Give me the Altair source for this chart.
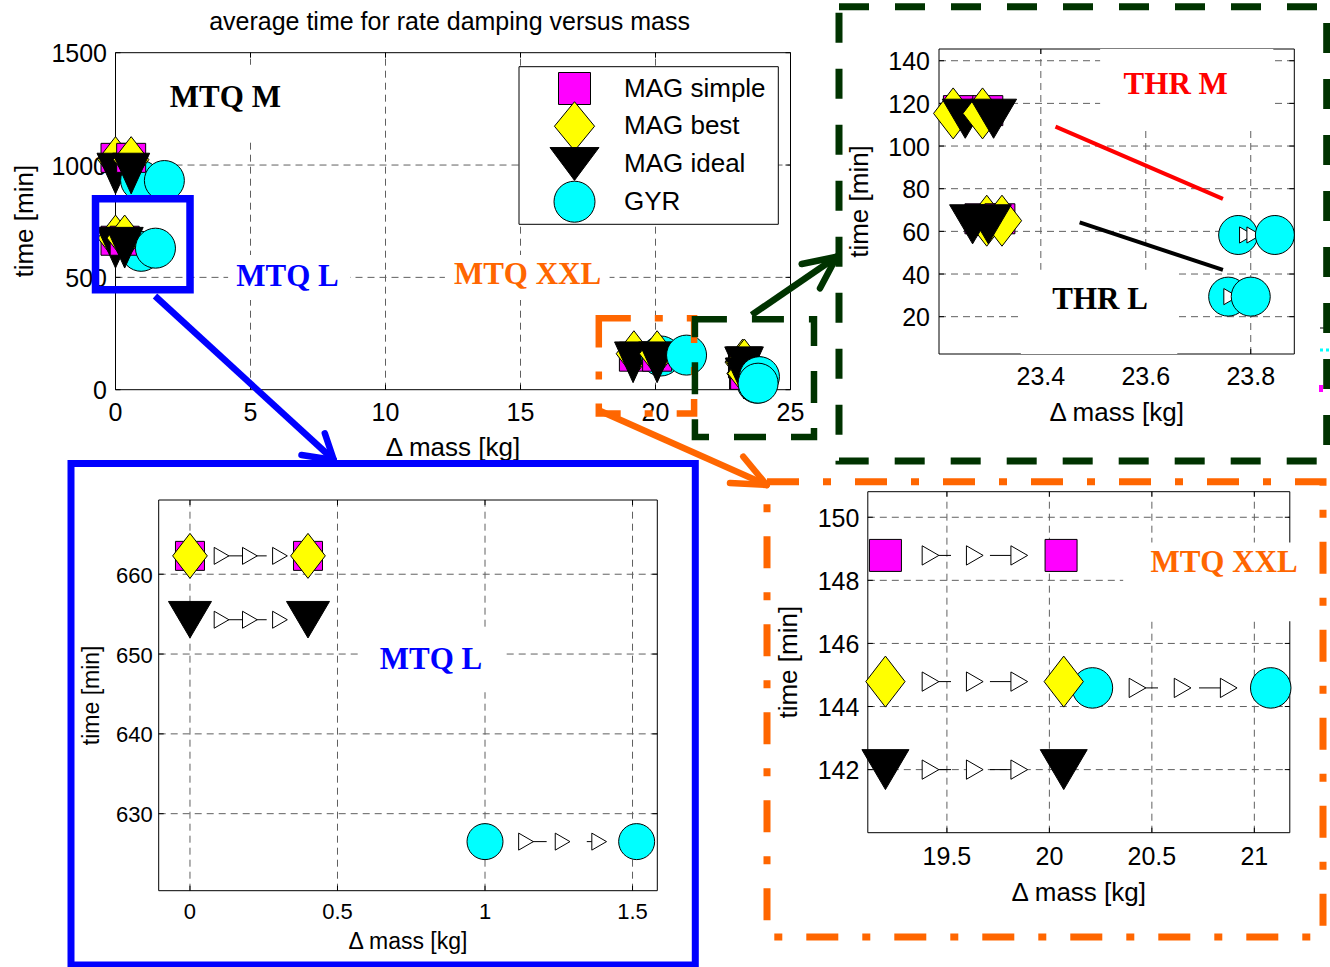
import altair as alt
import pandas as pd

W, H = 1330, 967
FONT = "Liberation Sans"
SERIF = "Liberation Serif"
GRID_COLOR = "#606060"
BLUE, GREEN, ORANGE, RED = "#0000ff", "#003300", "#ff6600", "#ff0000"

SERIES = ["MAG simple", "MAG best", "MAG ideal", "GYR"]
FILL = {"MAG simple": "#ff00ff", "MAG best": "#ffff00", "MAG ideal": "#000000", "GYR": "#00ffff"}

# ---------------------------------------------------------------- data
# overview: (sensor, step, delta mass [kg], average damping time [min])
OV_MTQ_M = [
    ("MAG simple", 1, 0.00, 1032), ("MAG simple", 2, 0.58, 1032),
    ("MAG best", 1, 0.00, 1024), ("MAG best", 2, 0.58, 1024),
    ("MAG ideal", 1, 0.00, 962), ("MAG ideal", 2, 0.58, 962),
    ("GYR", 1, 0.93, 931), ("GYR", 2, 1.81, 931),
]
OV_MTQ_L = [
    ("MAG simple", 1, 0.00, 663), ("MAG simple", 2, 0.34, 663),
    ("MAG best", 1, 0.00, 675), ("MAG best", 2, 0.34, 675),
    ("MAG ideal", 1, 0.00, 632), ("MAG ideal", 2, 0.34, 632),
    ("GYR", 1, 0.95, 616), ("GYR", 2, 1.48, 630),
]
OV_MTQ_XXL = [
    ("MAG simple", 1, 19.20, 147), ("MAG simple", 2, 20.06, 147),
    ("MAG best", 1, 19.20, 160), ("MAG best", 2, 20.06, 160),
    ("MAG ideal", 1, 19.17, 122), ("MAG ideal", 2, 20.06, 122),
    ("GYR", 1, 20.20, 150), ("GYR", 2, 21.15, 154),
]
OV_THR = [
    ("MAG simple", 1, 23.24, 117), ("MAG simple", 2, 23.30, 117),
    ("MAG best", 1, 23.23, 123), ("MAG best", 2, 23.29, 123),
    ("MAG ideal", 1, 23.25, 100), ("MAG ideal", 2, 23.31, 100),
    ("GYR", 1, 23.78, 58), ("GYR", 2, 23.85, 58),
    ("MAG simple", 1, 23.28, 66), ("MAG simple", 2, 23.32, 66),
    ("MAG best", 1, 23.30, 72), ("MAG best", 2, 23.33, 72),
    ("MAG ideal", 1, 23.27, 50), ("MAG ideal", 2, 23.30, 50),
    ("GYR", 1, 23.76, 29), ("GYR", 2, 23.80, 29),
]

# thruster close-up
THR_M = [
    ("MAG simple", 1, 23.243, 116.6), ("MAG simple", 2, 23.299, 116.6),
    ("MAG best", 1, 23.233, 115.3), ("MAG best", 2, 23.289, 115.3),
    ("MAG ideal", 1, 23.256, 112.8), ("MAG ideal", 2, 23.310, 112.8),
    ("GYR", 1, 23.776, 58.3), ("GYR", 2, 23.846, 58.3),
]
THR_L = [
    ("MAG simple", 1, 23.284, 65.9), ("MAG simple", 2, 23.322, 65.9),
    ("MAG best", 1, 23.297, 65.0), ("MAG best", 2, 23.326, 65.0),
    ("MAG ideal", 1, 23.270, 63.3), ("MAG ideal", 2, 23.300, 63.3),
    ("GYR", 1, 23.757, 29.4), ("GYR", 2, 23.800, 29.4),
]
THR_TREND_M = [(23.428, 109.1, 23.747, 75.2)]
THR_TREND_L = [(23.474, 64.2, 23.747, 41.9)]
THR_STEP_MARKS = [(23.792, 58.3), (23.806, 58.3), (23.762, 29.4)]

# MTQ L close-up
MTQL = [
    ("MAG simple", 1, 0.00, 662.3), ("MAG simple", 2, 0.40, 662.3),
    ("MAG best", 1, 0.00, 662.3), ("MAG best", 2, 0.40, 662.3),
    ("MAG ideal", 1, 0.00, 654.3), ("MAG ideal", 2, 0.40, 654.3),
    ("GYR", 1, 1.00, 626.5), ("GYR", 2, 1.514, 626.5),
]
MTQL_STEP_MARKS = [
    (0.107, 662.3), (0.203, 662.3), (0.305, 662.3),
    (0.107, 654.3), (0.203, 654.3), (0.305, 654.3),
    (1.139, 626.5), (1.263, 626.5), (1.387, 626.5),
]
MTQL_STEP_LINES = [
    (0.107, 0.260, 662.3), (0.107, 0.260, 654.3),
    (1.139, 1.209, 626.5), (1.345, 1.387, 626.5),
]

# MTQ XXL close-up
XXL = [
    ("MAG simple", 1, 19.20, 148.79), ("MAG simple", 2, 20.057, 148.79),
    ("MAG best", 1, 19.20, 144.79), ("MAG best", 2, 20.07, 144.79),
    ("MAG ideal", 1, 19.20, 142.0), ("MAG ideal", 2, 20.07, 142.0),
    ("GYR", 1, 20.21, 144.59), ("GYR", 2, 21.08, 144.59),
]
XXL_STEP_MARKS = [
    (19.420, 148.79), (19.636, 148.79), (19.853, 148.79),
    (19.420, 144.79), (19.636, 144.79), (19.853, 144.79),
    (19.420, 142.00), (19.636, 142.00), (19.853, 142.00),
    (20.430, 144.59), (20.650, 144.59), (20.875, 144.59),
]
XXL_STEP_LINES = [
    (19.42, 19.52, 148.79), (19.71, 19.89, 148.79),
    (19.42, 19.52, 144.79), (19.71, 19.89, 144.79),
    (19.42, 19.52, 142.00), (19.71, 19.89, 142.00),
    (20.43, 20.53, 144.59), (20.73, 20.91, 144.59),
]

# ---------------------------------------------------------------- marker looks
DIAMOND = "M0,-1L0.77,0L0,1L-0.77,0Z"
DIAMOND_LEG = "M0,-1L0.82,0L0,1L-0.82,0Z"
TRI_TALL = "M-1,-1.1L1,-1.1L0,1.1Z"
TRI_WIDE = "M-1,-0.85L1,-0.85L0,0.85Z"
TRI_FLAT = "M-1,-0.67L1,-0.67L0,0.67Z"
TICK_UP, TICK_DOWN = "M0,0L0,-1", "M0,0L0,1"
TICK_RIGHT, TICK_LEFT = "M0,0L1,0", "M0,0L-1,0"

LOOK_MAIN = {"MAG simple": ("square", 29 ** 2), "MAG best": (DIAMOND, 46 ** 2),
             "MAG ideal": (TRI_TALL, 37 ** 2), "GYR": ("circle", 40 ** 2)}
LOOK_THR = {"MAG simple": ("square", 30 ** 2), "MAG best": (DIAMOND, 51 ** 2),
            "MAG ideal": (TRI_WIDE, 46 ** 2), "GYR": ("circle", 39 ** 2)}
LOOK_MTQL = {"MAG simple": ("square", 29 ** 2), "MAG best": (DIAMOND, 45 ** 2),
             "MAG ideal": (TRI_WIDE, 43 ** 2), "GYR": ("circle", 36 ** 2)}
LOOK_XXL = {"MAG simple": ("square", 32 ** 2), "MAG best": (DIAMOND, 51 ** 2),
            "MAG ideal": (TRI_WIDE, 47 ** 2), "GYR": ("circle", 40.5 ** 2)}
LOOK_LEG = {"MAG simple": ("square", 32 ** 2), "MAG best": (DIAMOND_LEG, 49 ** 2),
            "MAG ideal": (TRI_FLAT, 49 ** 2), "GYR": ("circle", 41 ** 2)}

ONE = pd.DataFrame({"k": [0]})


def points_df(*groups):
    rows = [r for g in groups for r in g]
    return pd.DataFrame(rows, columns=["sensor", "step", "mass", "time"])


def panel(cfg):
    xs = alt.Scale(domain=cfg["xdom"], range=cfg["xrng"], nice=False, zero=False)
    ys = alt.Scale(domain=cfg["ydom"], range=cfg["yrng"], nice=False, zero=False)
    x0, x1 = cfg["xdom"]
    y0, y1 = cfg["ydom"]
    tfs, hfs = cfg["fonts"]
    xl_dy, yl_dx, xt_dy, yt_dy = cfg["offsets"]

    def X(f):
        return alt.X(f, type="quantitative", scale=xs, axis=None)

    def Y(f):
        return alt.Y(f, type="quantitative", scale=ys, axis=None)

    layers = []
    # dashed grid
    vg = pd.DataFrame({"v": cfg["xgrid"], "lo": y0, "hi": y1})
    hg = pd.DataFrame({"v": cfg["ygrid"], "lo": x0, "hi": x1})
    gl = dict(stroke=GRID_COLOR, strokeWidth=1, strokeDash=[7, 5])
    layers.append(alt.Chart(vg).mark_rule(**gl).encode(x=X("v"), y=Y("lo"), y2="hi"))
    layers.append(alt.Chart(hg).mark_rule(**gl).encode(x=X("lo"), y=Y("v"), x2="hi"))

    # axes box
    frame = pd.DataFrame({"x0": [x0], "x1": [x1], "y0": [y0], "y1": [y1]})
    layers.append(alt.Chart(frame).mark_rect(fill="white", fillOpacity=0, stroke="black",
                                             strokeWidth=1)
                  .encode(x=X("x0"), x2="x1", y=Y("y0"), y2="y1"))

    # inward tick marks on all four sides
    xt = pd.DataFrame({"v": cfg["xticks"], "lo": y0, "hi": y1})
    yt = pd.DataFrame({"v": cfg["yticks"], "lo": x0, "hi": x1})
    tk = dict(filled=False, stroke="black", strokeWidth=1, opacity=1, size=100)
    layers += [
        alt.Chart(xt).mark_point(shape=TICK_UP, **tk).encode(x=X("v"), y=Y("lo")),
        alt.Chart(xt).mark_point(shape=TICK_DOWN, **tk).encode(x=X("v"), y=Y("hi")),
        alt.Chart(yt).mark_point(shape=TICK_RIGHT, **tk).encode(x=X("lo"), y=Y("v")),
        alt.Chart(yt).mark_point(shape=TICK_LEFT, **tk).encode(x=X("hi"), y=Y("v")),
    ]

    # tick labels
    xl = pd.DataFrame({"v": cfg["xticks"], "lo": y0, "lab": [f"{v:g}" for v in cfg["xticks"]]})
    yl = pd.DataFrame({"v": cfg["yticks"], "lo": x0, "lab": [f"{v:g}" for v in cfg["yticks"]]})
    layers.append(alt.Chart(xl).mark_text(font=FONT, fontSize=tfs, color="black", align="center",
                                          baseline="middle", dy=xl_dy)
                  .encode(x=X("v"), y=Y("lo"), text="lab:N"))
    layers.append(alt.Chart(yl).mark_text(font=FONT, fontSize=tfs, color="black", align="right",
                                          baseline="middle", dx=yl_dx, dy=1.5)
                  .encode(x=X("lo"), y=Y("v"), text="lab:N"))

    # axis titles
    tt = pd.DataFrame({"mx": [(x0 + x1) / 2], "my": [(y0 + y1) / 2], "lx": [x0], "ly": [y0]})
    layers.append(alt.Chart(tt).mark_text(text="Δ mass [kg]", font=FONT, fontSize=hfs,
                                          color="black", align="center", baseline="middle",
                                          dy=xt_dy)
                  .encode(x=X("mx"), y=Y("ly")))
    layers.append(alt.Chart(tt).mark_text(text="time [min]", font=FONT, fontSize=hfs,
                                          color="black", align="center", baseline="middle",
                                          angle=270, dy=yt_dy)
                  .encode(x=X("lx"), y=Y("my")))

    # white backgrounds behind the text labels
    if cfg.get("boxes"):
        bx = pd.DataFrame(cfg["boxes"], columns=["x0", "x1", "y0", "y1"])
        layers.append(alt.Chart(bx).mark_rect(fill="white", strokeWidth=0)
                      .encode(x=X("x0"), x2="x1", y=Y("y0"), y2="y1"))

    # trend lines
    for rows, color in cfg.get("trends", []):
        td = pd.DataFrame(rows, columns=["xa", "ya", "xb", "yb"])
        layers.append(alt.Chart(td).mark_rule(stroke=color, strokeWidth=4)
                      .encode(x=X("xa"), y=Y("ya"), x2="xb", y2="yb"))

    pts = cfg["points"]
    look = cfg["look"]

    def marker_layers(step):
        out = []
        for s in SERIES:
            shape, size = look[s]
            out.append(
                alt.Chart(pts)
                .transform_filter((alt.datum.sensor == s) & (alt.datum.step == step))
                .mark_point(shape=shape, size=size, filled=True, fill=FILL[s], stroke="black",
                            strokeWidth=1, opacity=1, fillOpacity=1, strokeOpacity=1)
                .encode(x=X("mass"), y=Y("time"))
            )
        return out

    layers += marker_layers(1)

    # step direction markers
    if cfg.get("step_lines"):
        sl = pd.DataFrame(cfg["step_lines"], columns=["xa", "xb", "y"])
        layers.append(alt.Chart(sl).mark_rule(stroke="black", strokeWidth=1)
                      .encode(x=X("xa"), x2="xb", y=Y("y")))
    if cfg.get("step_marks"):
        sm = pd.DataFrame(cfg["step_marks"], columns=["x", "y"])
        layers.append(alt.Chart(sm).mark_point(shape="triangle-right", size=cfg["step_size"],
                                               filled=True, fill="white", stroke="black",
                                               strokeWidth=1, opacity=1)
                      .encode(x=X("x"), y=Y("y")))

    layers += marker_layers(2)

    # text labels
    for text, x, y, color in cfg.get("labels", []):
        ld = pd.DataFrame({"t": [text], "x": [x], "y": [y]})
        layers.append(alt.Chart(ld).mark_text(font=SERIF, fontWeight="bold", fontSize=31,
                                              color=color, align="center", baseline="middle")
                      .encode(x=X("x"), y=Y("y"), text="t:N"))

    # zoom regions
    for (a, b, c, d), color, width, dash in cfg.get("regions", []):
        rd = pd.DataFrame({"x0": [a], "x1": [b], "y0": [c], "y1": [d]})
        props = dict(fill="white", fillOpacity=0, stroke=color, strokeWidth=width)
        if dash:
            props["strokeDash"] = dash
        layers.append(alt.Chart(rd).mark_rect(**props)
                      .encode(x=X("x0"), x2="x1", y=Y("y0"), y2="y1"))
    return alt.layer(*layers)


main = panel(dict(
    xdom=[0, 25], xrng=[115.5, 790.5], ydom=[0, 1500], yrng=[389.7, 52.7],
    xticks=[0, 5, 10, 15, 20, 25], yticks=[0, 500, 1000, 1500],
    xgrid=[5, 10, 15, 20], ygrid=[500, 1000],
    fonts=(25, 26), offsets=(23.5, -8.5, 58.3, -90.5),
    boxes=[(1.67, 6.48, 1112, 1446), (4.17, 8.69, 399, 600), (12.2, 18.3, 399, 600)],
    points=points_df(OV_MTQ_M, OV_MTQ_L, OV_MTQ_XXL, OV_THR), look=LOOK_MAIN,
    labels=[("MTQ M", 4.07, 1299, "black"), ("MTQ L", 6.37, 501, BLUE),
            ("MTQ XXL", 15.26, 510, ORANGE)],
    regions=[((-0.74, 2.76, 445, 850), BLUE, 7.5, None),
             ((17.90, 21.43, -106, 318), ORANGE, 6.5, [32, 24, 8, 24]),
             ((21.46, 25.87, -211, 314), GREEN, 6.5, [32, 25])],
))

thr = panel(dict(
    xdom=[23.206, 23.883], xrng=[939, 1294.3], ydom=[2.5, 145.5], yrng=[354, 49],
    xticks=[23.4, 23.6, 23.8], yticks=[20, 40, 60, 80, 100, 120, 140],
    xgrid=[23.4, 23.6, 23.8], ygrid=[20, 40, 60, 80, 100, 120, 140],
    fonts=(25, 26), offsets=(22.5, -9, 59, -79),
    boxes=[(23.513, 23.843, 107, 145.5), (23.362, 23.66, 2.5, 42)],
    trends=[(THR_TREND_M, RED), (THR_TREND_L, "black")],
    points=points_df(THR_M, THR_L), look=LOOK_THR,
    step_marks=THR_STEP_MARKS, step_size=260,
    labels=[("THR M", 23.657, 128.6, RED), ("THR L", 23.513, 27.8, "black")],
))

mtql = panel(dict(
    xdom=[-0.106, 1.584], xrng=[158.7, 657.3], ydom=[620.35, 669.3], yrng=[890.7, 500],
    xticks=[0, 0.5, 1, 1.5], yticks=[630, 640, 650, 660],
    xgrid=[0, 0.5, 1, 1.5], ygrid=[630, 640, 650, 660],
    fonts=(22, 23), offsets=(20.8, -6, 51, -67),
    boxes=[(0.57, 1.068, 645.2, 653.3)],
    points=points_df(MTQL), look=LOOK_MTQL,
    step_marks=MTQL_STEP_MARKS, step_lines=MTQL_STEP_LINES, step_size=289,
    labels=[("MTQ L", 0.817, 649.25, BLUE)],
))

xxl = panel(dict(
    xdom=[19.114, 21.173], xrng=[867.8, 1289.8], ydom=[140, 150.81], yrng=[832.7, 491.7],
    xticks=[19.5, 20, 20.5, 21], yticks=[142, 144, 146, 148, 150],
    xgrid=[19.5, 20, 20.5, 21], ygrid=[142, 144, 146, 148, 150],
    fonts=(25, 26), offsets=(23.8, -8.4, 60.3, -78.8),
    boxes=[(20.36, 21.22, 146.7, 149.2)],
    points=points_df(XXL), look=LOOK_XXL,
    step_marks=XXL_STEP_MARKS, step_lines=XXL_STEP_LINES, step_size=372,
    labels=[("MTQ XXL", 20.852, 148.54, ORANGE)],
))

# ---------------------------------------------------------------- legend
leg_df = pd.DataFrame({"sensor": SERIES})
leg_y = alt.Y("sensor:N", scale=alt.Scale(domain=SERIES, range=[88.5, 201.7], padding=0),
              axis=None)
legend_layers = [
    alt.Chart(ONE).mark_rect(fill="white", stroke="black", strokeWidth=1)
    .encode(x=alt.value(519), x2=alt.value(778.3), y=alt.value(66.7), y2=alt.value(224.3))
]
for s in SERIES:
    shape, size = LOOK_LEG[s]
    legend_layers.append(
        alt.Chart(leg_df).transform_filter(alt.datum.sensor == s)
        .mark_point(shape=shape, size=size, filled=True, fill=FILL[s], stroke="black",
                    strokeWidth=1, opacity=1)
        .encode(x=alt.value(574.5), y=leg_y)
    )
legend_layers.append(
    alt.Chart(leg_df).mark_text(font=FONT, fontSize=26, align="left", baseline="middle",
                                color="black")
    .encode(x=alt.value(624), y=leg_y, text="sensor:N")
)
legend = alt.layer(*legend_layers)


# ---------------------------------------------------------------- frames and arrows
def rule_px(xa, ya, xb, yb, color, width, cap="butt"):
    return alt.Chart(ONE).mark_rule(stroke=color, strokeWidth=width, strokeCap=cap).encode(
        x=alt.value(xa), y=alt.value(ya), x2=alt.value(xb), y2=alt.value(yb))


def box_px(xa, ya, xb, yb, color, width, dash=None):
    props = dict(fill="white", fillOpacity=0, stroke=color, strokeWidth=width)
    if dash:
        props["strokeDash"] = dash
    return alt.Chart(ONE).mark_rect(**props).encode(
        x=alt.value(xa), y=alt.value(ya), x2=alt.value(xb), y2=alt.value(yb))


def arrow_px(start, tip, barb1, barb2, color):
    return [rule_px(start[0], start[1], tip[0], tip[1], color, 6.5),
            rule_px(barb1[0], barb1[1], tip[0], tip[1], color, 6.5, "round"),
            rule_px(barb2[0], barb2[1], tip[0], tip[1], color, 6.5, "round")]


title = alt.Chart(ONE).mark_text(
    text="average time for rate damping versus mass", font=FONT, fontSize=25,
    align="center", baseline="alphabetic", color="black"
).encode(x=alt.value(449.5), y=alt.value(30))

# clipped bits of a neighbouring figure at the right edge
edge_bits = [
    rule_px(1320, 328, 1327, 328, "black", 1),
    alt.Chart(ONE).mark_rule(stroke="#00ffff", strokeWidth=3, strokeDash=[3, 3]).encode(
        x=alt.value(1320), x2=alt.value(1330), y=alt.value(350), y2=alt.value(350)),
    alt.Chart(ONE).mark_rect(fill="#ff00ff").encode(
        x=alt.value(1319), x2=alt.value(1323), y=alt.value(385), y2=alt.value(392)),
]

deco = [title] + edge_bits + [
    box_px(71, 463.5, 695.3, 965, BLUE, 7),
    box_px(839, 6.7, 1326.7, 461, GREEN, 7, [30, 26]),
    box_px(767, 481.7, 1323, 937, ORANGE, 7, [32, 24, 8, 24]),
]
deco += arrow_px((155, 296), (333.8, 460), (301.5, 455), (324.8, 433.3), BLUE)
deco += arrow_px((751.7, 315), (836.7, 256.7), (801.7, 264), (820, 288.3), GREEN)
deco += arrow_px((598, 410), (766.7, 485), (730, 483), (743.3, 456.7), ORANGE)

chart = (
    alt.layer(main, legend, thr, mtql, xxl, *deco)
    .resolve_scale(x="independent", y="independent")
    .properties(width=W, height=H, padding=0, autosize=alt.AutoSizeParams(type="none"),
                background="white")
    .configure_view(stroke=None)
)

chart.save("out.html", embed_options={"renderer": "svg", "actions": False})
